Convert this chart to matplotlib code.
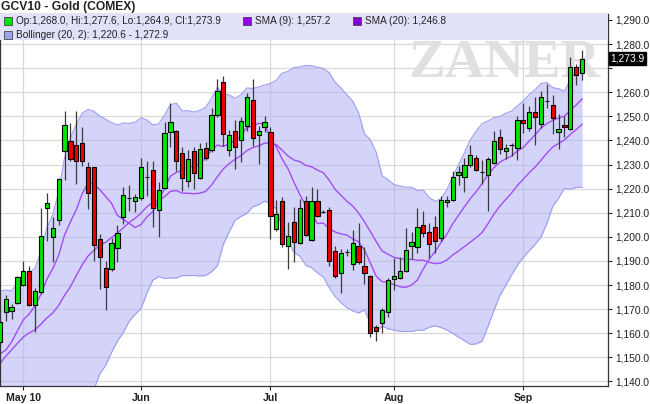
#!/usr/bin/env python3
"""GCV10 gold daily candles with SMA(9), SMA(20) and Bollinger(20, 2)."""

import numpy as np
import pandas as pd
import matplotlib

matplotlib.use("Agg")
import matplotlib.pyplot as plt
from matplotlib.patches import Rectangle

plt.rcParams["font.family"] = ["Liberation Sans", "DejaVu Sans"]

title = "GCV10 - Gold (COMEX)"
holidays = ["2010-04-02", "2010-05-31", "2010-07-05", "2010-09-06"]
month_labels = ["May 10", "Jun", "Jul", "Aug", "Sep"]

# closes before the first visible bar, only used to seed the 9/20 day windows
prior_closes = [1112, 1118, 1128, 1134, 1137, 1152, 1153, 1163, 1162, 1162,
                1163, 1160, 1140, 1141, 1145, 1150, 1147, 1157, 1158]

opens = [1156.5, 1168.7, 1169.1, 1172.7, 1180.1, 1186.0, 1171.8, 1177.0, 1212.0, 1200.1,
         1207.1, 1235.5, 1239.9, 1238.1, 1238.8, 1229.1, 1228.8, 1199.0, 1187.1, 1186.6,
         1195.2, 1208.4, 1216.2, 1214.7, 1216.0, 1224.9, 1227.7, 1211.1, 1220.2, 1243.4,
         1243.8, 1234.9, 1223.0, 1235.5, 1224.3, 1236.7, 1236.1, 1250.7, 1264.1, 1236.0,
         1244.0, 1240.3, 1246.1, 1256.8, 1242.4, 1245.4, 1243.3, 1203.2, 1214.7, 1196.3,
         1206.0, 1197.3, 1214.7, 1198.7, 1214.7, 1210.4, 1211.3, 1194.2, 1184.8, 1193.6,
         1188.7, 1196.3, 1188.0, 1183.9, 1162.7, 1164.1, 1169.0, 1182.5, 1182.9, 1185.7,
         1196.0, 1195.6, 1204.9, 1202.1, 1203.9, 1199.5, 1214.5, 1215.3, 1225.8, 1225.0,
         1229.8, 1232.6, 1226.8, 1225.8, 1230.6, 1241.6, 1235.8, 1238.1, 1236.8, 1248.6,
         1245.0, 1251.9, 1246.9, 1256.2, 1254.8, 1243.3, 1246.4, 1244.7, 1270.3, 1268.0]
highs = [1166.0, 1175.9, 1172.1, 1183.9, 1190.1, 1188.0, 1178.8, 1211.8, 1218.0, 1208.1,
         1224.3, 1252.1, 1247.1, 1252.1, 1245.7, 1230.9, 1229.1, 1201.2, 1190.0, 1199.5,
         1205.0, 1220.5, 1221.6, 1217.8, 1232.7, 1231.5, 1231.5, 1222.6, 1247.5, 1255.4,
         1244.2, 1237.2, 1236.0, 1237.4, 1238.8, 1239.5, 1253.4, 1265.5, 1266.9, 1244.3,
         1248.5, 1249.8, 1259.5, 1265.5, 1246.0, 1250.3, 1245.4, 1215.3, 1216.4, 1206.0,
         1212.2, 1215.7, 1217.1, 1220.8, 1219.8, 1211.0, 1212.2, 1196.3, 1194.9, 1195.0,
         1202.8, 1205.6, 1195.6, 1184.0, 1163.5, 1170.5, 1182.9, 1191.2, 1191.5, 1203.6,
         1201.8, 1212.0, 1210.6, 1205.6, 1208.8, 1217.1, 1217.0, 1227.5, 1229.5, 1232.7,
         1238.1, 1233.8, 1231.9, 1233.0, 1244.0, 1244.7, 1238.5, 1239.0, 1250.3, 1255.4,
         1254.4, 1258.1, 1260.4, 1263.2, 1259.0, 1251.0, 1250.3, 1274.7, 1271.7, 1277.6]
lows = [1155.0, 1165.2, 1165.9, 1172.1, 1179.7, 1171.4, 1160.4, 1176.3, 1198.4, 1189.4,
        1205.0, 1223.7, 1231.6, 1221.9, 1229.5, 1211.5, 1190.1, 1178.3, 1169.8, 1186.0,
        1189.4, 1205.3, 1210.6, 1210.2, 1215.4, 1217.0, 1204.2, 1199.8, 1219.8, 1237.2,
        1227.5, 1219.0, 1220.8, 1219.8, 1224.0, 1232.0, 1235.0, 1249.6, 1237.8, 1233.7,
        1228.1, 1230.9, 1244.0, 1237.8, 1230.2, 1243.4, 1199.1, 1202.5, 1195.6, 1186.6,
        1189.4, 1197.0, 1200.5, 1198.4, 1208.1, 1209.8, 1188.0, 1182.9, 1176.5, 1192.0,
        1186.2, 1188.7, 1180.4, 1158.6, 1156.9, 1160.0, 1166.6, 1178.0, 1182.5, 1185.2,
        1190.8, 1193.1, 1200.1, 1191.2, 1193.1, 1198.4, 1212.5, 1214.7, 1221.6, 1218.5,
        1229.1, 1227.4, 1222.0, 1210.6, 1230.2, 1234.4, 1232.3, 1233.7, 1232.0, 1242.9,
        1243.9, 1238.1, 1245.1, 1253.4, 1242.6, 1236.4, 1241.4, 1244.3, 1263.1, 1264.9]
closes = [1164.5, 1174.1, 1170.7, 1183.2, 1185.7, 1171.8, 1177.6, 1200.2, 1213.9, 1203.7,
          1224.0, 1246.5, 1232.1, 1231.3, 1231.6, 1218.0, 1196.6, 1191.8, 1179.3, 1197.4,
          1201.6, 1217.5, 1216.2, 1216.6, 1228.8, 1224.9, 1212.0, 1219.4, 1243.1, 1247.8,
          1231.6, 1224.3, 1232.3, 1226.4, 1236.4, 1232.6, 1250.7, 1260.4, 1242.7, 1242.4,
          1237.1, 1247.9, 1257.9, 1240.9, 1244.0, 1247.8, 1208.5, 1209.5, 1197.0, 1200.5,
          1197.7, 1211.8, 1200.7, 1215.0, 1208.7, 1210.4, 1189.8, 1183.6, 1193.1, 1193.6,
          1197.3, 1189.4, 1184.8, 1159.9, 1161.0, 1169.6, 1182.1, 1183.9, 1186.0, 1194.5,
          1198.0, 1203.9, 1201.4, 1197.0, 1198.1, 1215.3, 1215.3, 1225.0, 1226.8, 1229.9,
          1234.1, 1227.7, 1226.8, 1232.3, 1239.9, 1236.4, 1236.7, 1238.1, 1248.6, 1247.1,
          1251.9, 1249.6, 1257.9, 1256.2, 1249.3, 1244.7, 1245.7, 1270.3, 1267.1, 1273.9]

legend_ohlc = "Op:1,268.0, Hi:1,277.6, Lo:1,264.9, Cl:1,273.9"
legend_sma9 = "SMA (9): 1,257.2"
legend_sma20 = "SMA (20): 1,246.8"
legend_boll = "Bollinger (20, 2): 1,220.6 - 1,272.9"

# trading calendar
days = pd.bdate_range("2010-03-30", "2010-09-16")
days = days[~days.isin(pd.to_datetime(holidays))]
dates = days[len(prior_closes):]
x = np.arange(len(closes))
month_pos = [i for i in range(1, len(dates)) if dates[i].month != dates[i - 1].month]

# indicators
s = pd.Series(prior_closes + closes, dtype=float)
n0 = len(prior_closes)
sma9 = s.rolling(9).mean().to_numpy()[n0:]
sma20 = s.rolling(20).mean().to_numpy()[n0:]
sd20 = s.rolling(20).std(ddof=0).to_numpy()[n0:]
upper = sma20 + 2 * sd20
lower = sma20 - 2 * sd20

o = np.asarray(opens)
h = np.asarray(highs)
l = np.asarray(lows)
c = np.asarray(closes)

W, H = 650, 404
fig = plt.figure(figsize=(W / 100, H / 100), dpi=100)
ax = fig.add_axes([0.0, (H - 386) / H, 608 / W, 372 / H])
ax.set_xlim(0.03, 103.4)
ax.set_ylim(1138.1, 1292.45)

# grid
yt = np.arange(1140, 1291, 10)
ax.set_yticks(yt)
ax.set_yticklabels(["" if v == 1270 else f"{v:,.1f}" for v in yt])
ax.set_xticks(month_pos)
ax.set_xticklabels(month_labels, fontweight="bold")
ax.grid(True, color="#d9d9d9", linewidth=0.9, zorder=0)
ax.set_axisbelow(True)
ax.yaxis.tick_right()
ax.tick_params(axis="y", length=3, pad=2, labelsize=7.4, colors="#222222")
ax.tick_params(axis="x", length=3, pad=2, labelsize=7.6, colors="#222222")
for sp in ax.spines.values():
    sp.set_color("#333333")
    sp.set_linewidth(0.9)

# watermark
ax.text(408 / 608, (386 - 77) / 372, "ZANER", transform=ax.transAxes,
        family="Liberation Serif", fontweight="bold", fontsize=39.5, color="#e0e0e0",
        ha="left", va="baseline", zorder=1)

# bollinger band + moving averages
ax.fill_between(x, lower, upper, color="#b2b2f6", alpha=0.55, linewidth=0, zorder=1.5)
ax.plot(x, upper, color="#9d9df2", linewidth=0.8, zorder=1.6)
ax.plot(x, lower, color="#9d9df2", linewidth=0.8, zorder=1.6)
ax.plot(x, sma9, color="#a34cf2", linewidth=1.0, zorder=2)
ax.plot(x, sma20, color="#a34cf2", linewidth=1.0, zorder=2)

# candles
ax.vlines(x, l, h, color="#3a3a3a", linewidth=0.9, zorder=3)
body_col = np.where(c >= o, "#00e600", "#ee0000")
ax.bar(x, np.abs(c - o), bottom=np.minimum(o, c), width=0.72, color=body_col,
       edgecolor="black", linewidth=0.8, zorder=4)

# last price tag
ax.text(1.004, closes[-1], f"{closes[-1]:,.1f}", transform=ax.get_yaxis_transform(),
        color="white", fontsize=7.4, va="center", ha="left", clip_on=False,
        bbox=dict(boxstyle="square,pad=0.15", fc="black", ec="black"))

# legend strip
ax.add_patch(Rectangle((0, (386 - 40) / 372), 1, 40 / 372, transform=ax.transAxes,
                       facecolor="#e1e1fa", edgecolor="none", zorder=5))


def legend_item(px, py, text, color):
    ax_x, ax_y = px / 608, (386 - py) / 372
    ax.plot([ax_x], [ax_y], marker="s", ms=5.2, mfc=color, mec="#444444", mew=0.6,
            transform=ax.transAxes, zorder=6, clip_on=False)
    ax.text(ax_x + 8 / 608, ax_y, text, transform=ax.transAxes, fontsize=7.2,
            color="#222222", va="center", ha="left", zorder=6)


legend_item(8, 21, legend_ohlc, "#00e600")
legend_item(247, 21, legend_sma9, "#9400f0")
legend_item(357, 21, legend_sma20, "#8a00d8")
legend_item(8, 35, legend_boll, "#a0a0f0")

fig.text(1 / W, 1 - 7 / H, title, fontsize=8.7, fontweight="bold", color="#222222",
         ha="left", va="center")

fig.savefig("out.png", dpi=100)
